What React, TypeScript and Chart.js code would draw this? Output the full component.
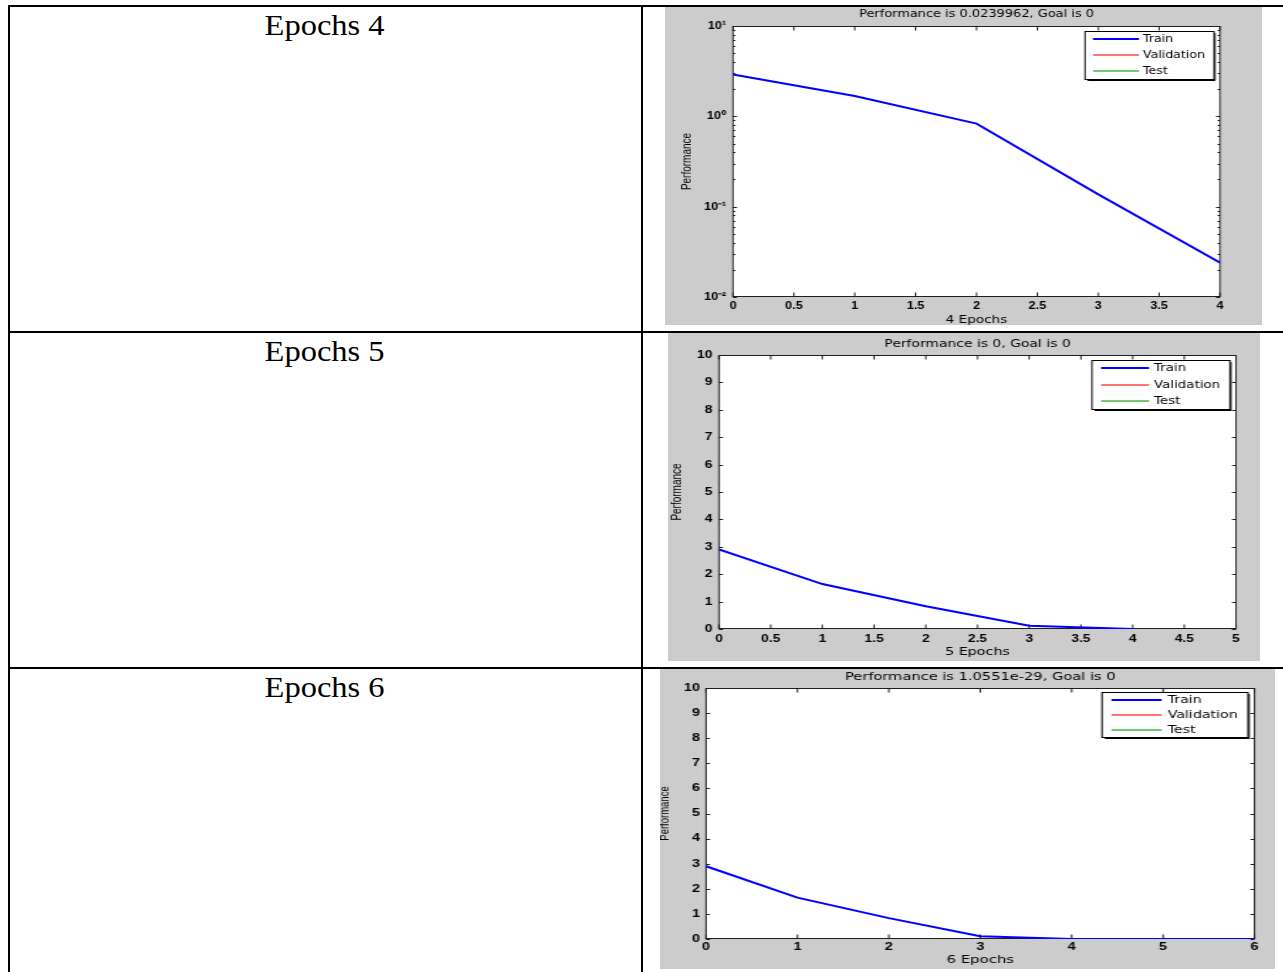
import React, { useEffect, useRef } from 'react';
import { Chart, registerables } from 'chart.js';

Chart.register(...registerables);

// ---------------- data ----------------
const ROW_LABELS = ['Epochs 4', 'Epochs 5', 'Epochs 6'];
const SERIES_LABELS = ['Train', 'Validation', 'Test'];
const SERIES_COLORS = ['#0000ff', '#ff0000', '#009900'];
const SERIES_WIDTHS = [2, 1, 1];

const EPOCHS_4 = [0, 1, 2, 3, 4];
const TRAIN_4 = [2.9, 1.68, 0.83, 0.137, 0.0239962];
const EPOCHS_5 = [0, 1, 2, 3, 4];
const TRAIN_5 = [2.9, 1.64, 0.83, 0.12, 0];
const EPOCHS_6 = [0, 1, 2, 3, 4, 5, 6];
const TRAIN_6 = [2.9, 1.65, 0.83, 0.11, 0.001, 0, 1.0551e-29];

const TITLE_4 = 'Performance is 0.0239962, Goal is 0';
const TITLE_5 = 'Performance is 0, Goal is 0';
const TITLE_6 = 'Performance is 1.0551e-29, Goal is 0';
const X_TITLE_4 = '4 Epochs';
const X_TITLE_5 = '5 Epochs';
const X_TITLE_6 = '6 Epochs';
const Y_TITLE = 'Performance';

const X_TICKS_4 = [0, 0.5, 1, 1.5, 2, 2.5, 3, 3.5, 4];
const X_TICK_LABELS_4 = ['0', '0.5', '1', '1.5', '2', '2.5', '3', '3.5', '4'];
const X_TICKS_5 = [0, 0.5, 1, 1.5, 2, 2.5, 3, 3.5, 4, 4.5, 5];
const X_TICK_LABELS_5 = ['0', '0.5', '1', '1.5', '2', '2.5', '3', '3.5', '4', '4.5', '5'];
const X_TICKS_6 = [0, 1, 2, 3, 4, 5, 6];
const X_TICK_LABELS_6 = ['0', '1', '2', '3', '4', '5', '6'];

const Y_TICKS_LOG = [0.01, 0.1, 1, 10];
const Y_TICK_LABELS_LOG = ['10\u207B\u00B2', '10\u207B\u00B9', '10\u2070', '10\u00B9'];
const Y_MINOR_LOG = [2, 3, 4, 5, 6, 7, 8, 9];
const Y_TICKS_LIN = [0, 1, 2, 3, 4, 5, 6, 7, 8, 9, 10];
const Y_TICK_LABELS_LIN = ['0', '1', '2', '3', '4', '5', '6', '7', '8', '9', '10'];

// ---------------- styles / layout ----------------
const WIDE = '"DejaVu Sans", Verdana, sans-serif';
const SANS = '"Liberation Sans", Arial, Helvetica, sans-serif';
const SERIF = '"Liberation Serif", "Times New Roman", serif';
const FIG_BG = '#cccccc';
const AXIS_COLOR = '#1e1e1e';

const PANELS = [
  {
    epochs: EPOCHS_4, train: TRAIN_4, title: TITLE_4, xTitle: X_TITLE_4,
    xTicks: X_TICKS_4, xTickLabels: X_TICK_LABELS_4, xMax: 4,
    log: true, yTicks: Y_TICKS_LOG, yTickLabels: Y_TICK_LABELS_LOG, yMin: 0.01, yMax: 10,
    box: { left: 665, top: 7, width: 597, height: 318 }, sx: 1.23,
    plot: { left: 733, top: 26, right: 1220, bottom: 297 },
    titleY: 14.2, xTickY: 306.5, xTitleY: 320, yTickRight: 726, yTitleX: 687,
    legend: { left: 1085, top: 31, width: 129, height: 48, lineStart: 1093, lineEnd: 1139, textX: 1143 },
    fonts: { title: 10.5, legend: 10.2, xTitle: 11, ticks: 10.3, yTitle: 10 },
  },
  {
    epochs: EPOCHS_5, train: TRAIN_5, title: TITLE_5, xTitle: X_TITLE_5,
    xTicks: X_TICKS_5, xTickLabels: X_TICK_LABELS_5, xMax: 5,
    log: false, yTicks: Y_TICKS_LIN, yTickLabels: Y_TICK_LABELS_LIN, yMin: 0, yMax: 10,
    box: { left: 668, top: 333, width: 592, height: 328 }, sx: 1.3,
    plot: { left: 719, top: 355, right: 1236, bottom: 629 },
    titleY: 344.2, xTickY: 639.5, xTitleY: 652.5, yTickRight: 712.4, yTitleX: 678,
    legend: { left: 1092, top: 360, width: 138, height: 49, lineStart: 1101, lineEnd: 1149, textX: 1154 },
    fonts: { title: 10.7, legend: 10.3, xTitle: 11, ticks: 10.6, yTitle: 10 },
  },
  {
    epochs: EPOCHS_6, train: TRAIN_6, title: TITLE_6, xTitle: X_TITLE_6,
    xTicks: X_TICKS_6, xTickLabels: X_TICK_LABELS_6, xMax: 6,
    log: false, yTicks: Y_TICKS_LIN, yTickLabels: Y_TICK_LABELS_LIN, yMin: 0, yMax: 10,
    box: { left: 660, top: 669, width: 615, height: 300 }, sx: 1.42,
    plot: { left: 706, top: 688, right: 1254.5, bottom: 939 },
    titleY: 677.5, xTickY: 947.5, xTitleY: 960.5, yTickRight: 700, yTitleX: 665,
    legend: { left: 1102, top: 692, width: 146, height: 45, lineStart: 1111.5, lineEnd: 1161.6, textX: 1167.6 },
    fonts: { title: 10.3, legend: 10, xTitle: 10.5, ticks: 10.2, yTitle: 9.5 },
  },
];

const ROW_TEXT_TOPS = [11, 337, 673];

// ---------------- plugin: MATLAB look ----------------
const matlabPlugin = {
  id: 'matlab',
  beforeDraw(chart: any, _a: any, o: any) {
    const { ctx, width, height, chartArea: ca } = chart;
    ctx.save();
    ctx.fillStyle = o.bg;
    ctx.fillRect(0, 0, width, height);
    ctx.fillStyle = '#ffffff';
    ctx.fillRect(ca.left, ca.top, ca.right - ca.left, ca.bottom - ca.top);
    ctx.restore();
  },
  beforeDatasetsDraw(chart: any, _a: any, o: any) {
    const { ctx, chartArea: ca, scales } = chart;
    const xs = scales.x;
    const ys = scales.y;
    const top = Math.round(ca.top) + 0.5;
    const bottom = Math.round(ca.bottom) - 0.5;
    ctx.save();
    ctx.strokeStyle = o.axisColor;
    ctx.lineWidth = 1;
    ctx.strokeRect(ca.left, top, ca.right - ca.left, bottom - top);
    ctx.beginPath();
    const tl = o.tickLen;
    const tlx = o.tickLen / o.sx;
    xs.ticks.forEach((t: any) => {
      const p = xs.getPixelForValue(t.value);
      ctx.moveTo(p, bottom);
      ctx.lineTo(p, bottom - tl);
      ctx.moveTo(p, top);
      ctx.lineTo(p, top + tl);
    });
    ys.ticks.forEach((t: any) => {
      const p = Math.round(ys.getPixelForValue(t.value)) + 0.5;
      ctx.moveTo(ca.left, p);
      ctx.lineTo(ca.left + tlx, p);
      ctx.moveTo(ca.right, p);
      ctx.lineTo(ca.right - tlx, p);
    });
    if (o.minor) {
      const tk = ys.ticks;
      for (let i = 0; i < tk.length - 1; i++) {
        o.minor.forEach((m: number) => {
          const p = Math.round(ys.getPixelForValue(tk[i].value * m)) + 0.5;
          ctx.moveTo(ca.left, p);
          ctx.lineTo(ca.left + tlx * 0.6, p);
          ctx.moveTo(ca.right, p);
          ctx.lineTo(ca.right - tlx * 0.6, p);
        });
      }
    }
    ctx.stroke();
    ctx.restore();
  },
  afterDatasetsDraw(chart: any, _a: any, o: any) {
    const { ctx } = chart;
    const lg = o.legend;
    ctx.save();
    ctx.fillStyle = '#ffffff';
    ctx.fillRect(lg.x, lg.y, lg.w, lg.h);
    ctx.strokeStyle = '#000000';
    ctx.lineWidth = 1;
    ctx.strokeRect(lg.x, lg.y + 0.5, lg.w, lg.h);
    ctx.beginPath();
    ctx.moveTo(lg.x + lg.w + 0.8, lg.y + 2);
    ctx.lineTo(lg.x + lg.w + 0.8, lg.y + lg.h + 1.5);
    ctx.lineTo(lg.x + 2, lg.y + lg.h + 1.5);
    ctx.stroke();
    lg.items.forEach((it: any, i: number) => {
      const cy = Math.round(lg.y + (lg.h * (2 * i + 1)) / 6);
      ctx.fillStyle = it.color;
      if (it.width >= 2) {
        ctx.fillRect(lg.l0, cy - 1, lg.l1 - lg.l0, 2);
      } else {
        ctx.globalAlpha = 0.55;
        ctx.fillRect(lg.l0, cy - 1, lg.l1 - lg.l0, 2);
        ctx.globalAlpha = 1;
      }
      ctx.fillStyle = '#000000';
      ctx.font = `${lg.font}px ${WIDE}`;
      ctx.textBaseline = 'middle';
      ctx.textAlign = 'left';
      ctx.fillText(it.label, lg.tx, cy);
    });
    ctx.restore();
  },
};

function PerfPanel({ p }: { p: any }) {
  const ref = useRef<HTMLCanvasElement>(null);
  const lw = Math.round(p.box.width / p.sx);

  useEffect(() => {
    const canvas = ref.current;
    if (!canvas) return;
    const sx = p.box.width / lw;
    const f = p.fonts;
    const yw = (p.plot.left - p.box.left) / sx;
    const padRight = lw - (p.plot.right - p.box.left) / sx;
    const titleH = p.plot.top - p.box.top;
    const tPt = p.titleY - p.box.top - f.title / 2;
    const tPb = titleH - f.title - tPt;
    const xAxisH = p.box.top + p.box.height - p.plot.bottom;
    const xtp = p.xTickY - p.plot.bottom - 0.6 * f.ticks;
    const xTitlePb = p.box.top + p.box.height - p.xTitleY - f.xTitle / 2;
    const ytp = (p.plot.left - p.yTickRight) / sx;
    const yTitlePt = (p.yTitleX - p.box.left) / sx - f.yTitle / 2;

    const datasets = SERIES_LABELS.map((label, i) => ({
      label,
      data: i === 0 ? p.epochs.map((x: number, j: number) => ({ x, y: p.train[j] })) : [],
      borderColor: SERIES_COLORS[i],
      backgroundColor: SERIES_COLORS[i],
      borderWidth: SERIES_WIDTHS[i],
      pointRadius: 0,
      tension: 0,
      fill: false,
    }));

    const lgOpts = {
      x: (p.legend.left - p.box.left) / sx,
      y: p.legend.top - p.box.top,
      w: p.legend.width / sx,
      h: p.legend.height,
      l0: (p.legend.lineStart - p.box.left) / sx,
      l1: (p.legend.lineEnd - p.box.left) / sx,
      tx: (p.legend.textX - p.box.left) / sx,
      font: f.legend,
      items: SERIES_LABELS.map((label, i) => ({ label, color: SERIES_COLORS[i], width: SERIES_WIDTHS[i] })),
    };

    const chart = new Chart(canvas, {
      type: 'line',
      data: { datasets },
      plugins: [matlabPlugin as any],
      options: {
        responsive: false,
        animation: false,
        devicePixelRatio: 1,
        events: [],
        layout: { padding: { left: 0, top: 0, right: padRight, bottom: 0 } },
        plugins: {
          legend: { display: false },
          tooltip: { enabled: false },
          colors: { enabled: false },
          title: {
            display: true,
            text: p.title,
            fullSize: false,
            color: '#000',
            font: { family: WIDE, size: f.title, lineHeight: 1, weight: 'normal' },
            padding: { top: tPt, bottom: tPb },
          },
          matlab: {
            bg: FIG_BG,
            axisColor: AXIS_COLOR,
            tickLen: 4,
            sx,
            minor: p.log ? Y_MINOR_LOG : null,
            legend: lgOpts,
          },
        } as any,
        scales: {
          x: {
            type: 'linear',
            min: 0,
            max: p.xMax,
            grid: { display: false, drawTicks: false },
            border: { display: false },
            ticks: {
              autoSkip: false,
              maxRotation: 0,
              minRotation: 0,
              padding: xtp,
              color: '#000',
              font: { family: SANS, size: f.ticks, weight: 'bold' },
              callback: (_v: any, i: number) => p.xTickLabels[i],
            },
            afterBuildTicks: (s: any) => {
              s.ticks = p.xTicks.map((value: number) => ({ value }));
            },
            afterFit: (s: any) => {
              s.height = xAxisH;
            },
            title: {
              display: true,
              text: p.xTitle,
              color: '#000',
              font: { family: WIDE, size: f.xTitle, lineHeight: 1 },
              padding: { top: 0, bottom: xTitlePb },
            },
          },
          y: {
            type: p.log ? 'logarithmic' : 'linear',
            position: 'left',
            min: p.yMin,
            max: p.yMax,
            grid: { display: false, drawTicks: false },
            border: { display: false },
            ticks: {
              autoSkip: false,
              padding: ytp,
              color: '#000',
              font: { family: SANS, size: f.ticks, weight: 'bold' },
              callback: (_v: any, i: number) => p.yTickLabels[i],
            },
            afterBuildTicks: (s: any) => {
              s.ticks = p.yTicks.map((value: number) => ({ value }));
            },
            afterFit: (s: any) => {
              s.width = yw;
            },
            title: {
              display: true,
              text: Y_TITLE,
              color: '#000',
              font: { family: SANS, size: f.yTitle, lineHeight: 1 },
              padding: { top: yTitlePt, bottom: 0 },
            },
          },
        } as any,
      },
    });
    return () => chart.destroy();
  }, []);

  return (
    <canvas
      ref={ref}
      width={lw}
      height={p.box.height}
      style={{
        position: 'absolute',
        left: p.box.left,
        top: p.box.top,
        width: p.box.width,
        height: p.box.height,
      }}
    />
  );
}

const line = (left: number, top: number, width: number, height: number) => ({
  position: 'absolute' as const,
  left,
  top,
  width,
  height,
  background: '#000',
});

export default function App() {
  return (
    <div
      style={{
        position: 'absolute',
        left: 0,
        top: 0,
        width: 1283,
        height: 972,
        background: '#fff',
        overflow: 'hidden',
      }}
    >
      {ROW_LABELS.map((t, i) => (
        <div
          key={t}
          style={{
            position: 'absolute',
            left: 8,
            width: 633,
            top: ROW_TEXT_TOPS[i],
            textAlign: 'center',
            fontFamily: SERIF,
            fontSize: 29,
            lineHeight: '29px',
            color: '#000',
          }}
        >
          <span style={{ display: 'inline-block', transform: 'scaleX(1.12)' }}>{t}</span>
        </div>
      ))}
      {PANELS.map((p, i) => (
        <PerfPanel key={i} p={p} />
      ))}
      <div style={line(8, 5, 1275, 2)} />
      <div style={line(8, 331, 1275, 2)} />
      <div style={line(8, 667, 1275, 2)} />
      <div style={line(8, 5, 2, 967)} />
      <div style={line(641, 5, 2, 967)} />
    </div>
  );
}
